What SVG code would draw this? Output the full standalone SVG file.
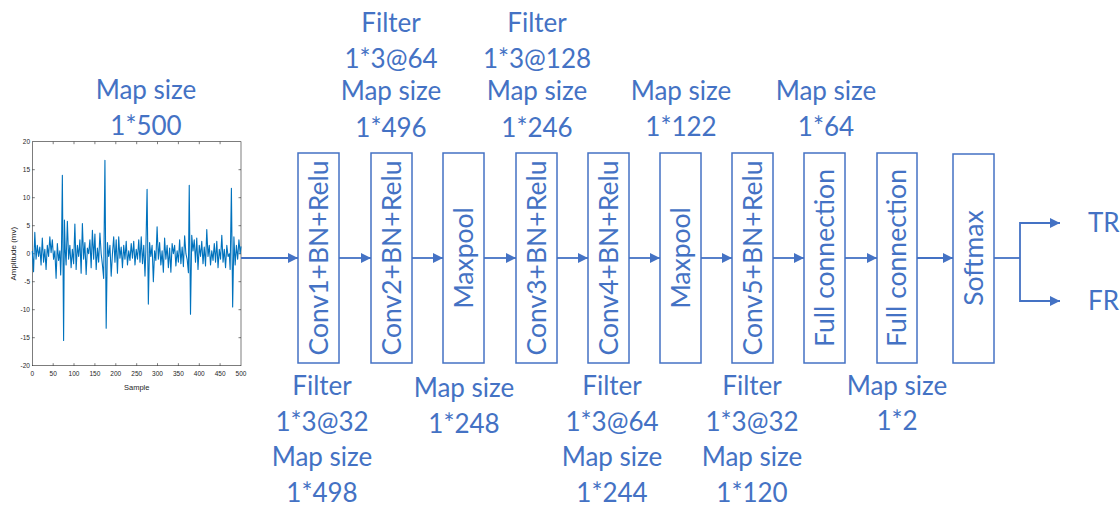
<svg xmlns="http://www.w3.org/2000/svg" width="1120" height="509" viewBox="0 0 1120 509">
<style>
.lbl{font-family:Lato,"Open Sans",sans-serif;font-size:26px;fill:#4472C4;text-anchor:middle}
.box{fill:#fff;stroke:#4472C4;stroke-width:1.5}
.vt{font-family:Lato,"Open Sans",sans-serif;font-size:26.5px;fill:#4472C4;text-anchor:middle}
.con{stroke:#4472C4;stroke-width:1.8;fill:none}
.ax{stroke:#262626;stroke-width:0.6;fill:none}
.tk{font-family:"Liberation Sans",Arial,sans-serif;font-size:6.5px;fill:#262626}
</style>
<defs>
<marker id="ah" viewBox="0 0 10 10" refX="10" refY="5" markerWidth="10" markerHeight="10" markerUnits="userSpaceOnUse" orient="auto">
<path d="M0,0 L10,5 L0,10 z" fill="#4472C4"/>
</marker>
</defs>
<rect width="1120" height="509" fill="#fff"/>

<g id="signal-plot">
<rect class="ax" x="32.3" y="141.7" width="208.7" height="224"/>
<path class="ax" d="M32.3,169.7h2.5 M32.3,197.7h2.5 M32.3,225.7h2.5 M32.3,253.7h2.5 M32.3,281.7h2.5 M32.3,309.7h2.5 M32.3,337.7h2.5 M241,169.7h-2.5 M241,197.7h-2.5 M241,225.7h-2.5 M241,253.7h-2.5 M241,281.7h-2.5 M241,309.7h-2.5 M241,337.7h-2.5 M53.2,365.7v-2.5 M74.0,365.7v-2.5 M94.9,365.7v-2.5 M115.8,365.7v-2.5 M136.7,365.7v-2.5 M157.5,365.7v-2.5 M178.4,365.7v-2.5 M199.3,365.7v-2.5 M220.1,365.7v-2.5 M53.2,141.7v2.5 M74.0,141.7v2.5 M94.9,141.7v2.5 M115.8,141.7v2.5 M136.7,141.7v2.5 M157.5,141.7v2.5 M178.4,141.7v2.5 M199.3,141.7v2.5 M220.1,141.7v2.5"/>
<g class="tk" text-anchor="end">
<text x="30" y="144">20</text>
<text x="30" y="172">15</text>
<text x="30" y="200">10</text>
<text x="30" y="228">5</text>
<text x="30" y="256">0</text>
<text x="30" y="284">-5</text>
<text x="30" y="312">-10</text>
<text x="30" y="340">-15</text>
<text x="30" y="368">-20</text>
</g>
<g class="tk" text-anchor="middle">
<text x="32.3" y="376">0</text>
<text x="53.2" y="376">50</text>
<text x="74.0" y="376">100</text>
<text x="94.9" y="376">150</text>
<text x="115.8" y="376">200</text>
<text x="136.7" y="376">250</text>
<text x="157.5" y="376">300</text>
<text x="178.4" y="376">350</text>
<text x="199.3" y="376">400</text>
<text x="220.1" y="376">450</text>
<text x="241" y="376">500</text>
</g>
<text x="136.7" y="390" font-family="Liberation Sans, Arial, sans-serif" font-size="7.5" fill="#262626" text-anchor="middle">Sample</text>
<text transform="translate(16,253.7) rotate(-90)" font-family="Liberation Sans, Arial, sans-serif" font-size="8" fill="#262626" text-anchor="middle">Amplitude (mv)</text>
<polyline transform="translate(32.3,253.7) scale(0.4174,-5.6)" vector-effect="non-scaling-stroke" fill="none" stroke="#0072BD" stroke-width="1.1" stroke-linejoin="round" points="0,0.5 3,-3.2 6,3.8 9,-1 12,1.5 15,-0.5 18,1.2 21,-2 24,2.8 27,-1.5 30,0.8 33,-2.8 36,1.5 39,-0.5 42,3 45,0.2 48,2.5 51,-1 54,0.5 57,-4.4 60,1.8 63,-1.2 66,0.5 68,-3.8 70,1.2 72,14 75,-15.5 77,6 79,0.5 81,-2 84,5.8 87,-1 90,1.5 93,-2.5 96,0.8 99,-1.8 102,5.3 105,-2.8 108,1.5 111,-0.5 114,2.5 117,-3.5 120,5.4 123,-1 126,2 129,-3.7 132,1 135,0 138,2.5 141,-2.5 144,4.2 147,-1 150,3.5 153,-2.8 156,1 159,-1.5 162,3.7 165,0 168,-2 171,-4.4 174,16.7 177,-13.3 180,2 183,-0.5 186,1.5 189,-4 192,0 195,3 198,-1.5 201,2.5 204,-3.5 207,3 210,-0.8 213,1.2 216,-2.5 219,1.5 222,-1 225,2.2 228,-2 231,0.5 234,-1.2 237,1.8 240,-0.8 243,2.2 246,-2 249,0.8 252,-1 255,2.5 258,-1.5 261,3 264,-1.8 267,1.5 270,-4 272,0.5 275,11.5 278,-9 281,2 284,-0.5 287,1.5 290,-5 293,0.5 296,-1.2 299,4.8 302,-1 305,2 308,-2 311,0.5 314,-3.3 317,2.8 320,-1 323,1.5 326,-2.5 329,1 332,-3.3 335,1.8 338,0 341,1.5 344,-2.2 347,0.5 350,-1.5 353,2.5 356,-1.8 359,1.2 362,-2.3 365,3.2 368,0 371,-1 374,-3.4 376,12.2 379,-10.8 382,3.3 385,0.5 388,2.5 391,-1.5 394,2.8 397,-2.8 400,1.5 403,-0.5 406,2.2 409,-1.8 412,1.2 415,-2.2 418,4.3 421,-0.5 424,1.5 427,-2 430,0.5 433,-1.2 436,1.8 439,-1.5 442,2.2 445,-2.5 448,0.8 451,-1 454,3.3 457,-1.5 460,0.8 463,-2.5 466,1.5 469,-0.5 472,0 474,-2.8 477,11.7 480,-9.5 483,3 486,-2 489,1.5 492,-1 495,2.5 498,0 500,1.3"/>
</g>

<g id="connectors">
<line class="con" x1="241" y1="258" x2="298" y2="258" marker-end="url(#ah)"/>
<line class="con" x1="339" y1="258" x2="371" y2="258" marker-end="url(#ah)"/>
<line class="con" x1="412" y1="258" x2="443" y2="258" marker-end="url(#ah)"/>
<line class="con" x1="484" y1="258" x2="516" y2="258" marker-end="url(#ah)"/>
<line class="con" x1="557" y1="258" x2="588" y2="258" marker-end="url(#ah)"/>
<line class="con" x1="629" y1="258" x2="660" y2="258" marker-end="url(#ah)"/>
<line class="con" x1="701" y1="258" x2="732" y2="258" marker-end="url(#ah)"/>
<line class="con" x1="773" y1="258" x2="804" y2="258" marker-end="url(#ah)"/>
<line class="con" x1="845" y1="258" x2="877" y2="258" marker-end="url(#ah)"/>
<line class="con" x1="917" y1="258" x2="953" y2="258" marker-end="url(#ah)"/>
<line class="con" x1="994" y1="258" x2="1020" y2="258"/>
<polyline class="con" points="1020,258 1020,223 1060,223" marker-end="url(#ah)"/>
<polyline class="con" points="1020,258 1020,301 1060,301" marker-end="url(#ah)"/>
</g>

<g id="conv1"><rect class="box" x="298" y="153" width="41" height="210"/><text class="vt" transform="translate(318.5,258) rotate(-90)" dy="0.35em">Conv1+BN+Relu</text></g>
<g id="conv2"><rect class="box" x="371" y="153" width="41" height="210"/><text class="vt" transform="translate(391.5,258) rotate(-90)" dy="0.35em">Conv2+BN+Relu</text></g>
<g id="maxpool1"><rect class="box" x="443" y="153" width="41" height="210"/><text class="vt" transform="translate(463.5,258) rotate(-90)" dy="0.35em">Maxpool</text></g>
<g id="conv3"><rect class="box" x="516" y="153" width="41" height="210"/><text class="vt" transform="translate(536.5,258) rotate(-90)" dy="0.35em">Conv3+BN+Relu</text></g>
<g id="conv4"><rect class="box" x="588" y="153" width="41" height="210"/><text class="vt" transform="translate(608.5,258) rotate(-90)" dy="0.35em">Conv4+BN+Relu</text></g>
<g id="maxpool2"><rect class="box" x="660" y="153" width="41" height="210"/><text class="vt" transform="translate(680.5,258) rotate(-90)" dy="0.35em">Maxpool</text></g>
<g id="conv5"><rect class="box" x="732" y="153" width="41" height="210"/><text class="vt" transform="translate(752.5,258) rotate(-90)" dy="0.35em">Conv5+BN+Relu</text></g>
<g id="fc1"><rect class="box" x="804" y="153" width="41" height="210"/><text class="vt" transform="translate(824.5,258) rotate(-90)" dy="0.35em">Full connection</text></g>
<g id="fc2"><rect class="box" x="877" y="153" width="40" height="210"/><text class="vt" transform="translate(897,258) rotate(-90)" dy="0.35em">Full connection</text></g>
<g id="softmax"><rect class="box" x="953" y="154" width="41" height="209"/><text class="vt" transform="translate(973.5,258) rotate(-90)" dy="0.35em">Softmax</text></g>
<g id="out-tr"><text class="lbl" x="1088" y="232" style="text-anchor:start">TR</text></g>
<g id="out-fr"><text class="lbl" x="1088" y="310" style="text-anchor:start">FR</text></g>

<g id="labels-top">
<text class="lbl" x="146" y="99">Map size</text>
<text class="lbl" x="146" y="135">1*500</text>
<text class="lbl" x="391" y="32">Filter</text>
<text class="lbl" x="391" y="68">1*3@64</text>
<text class="lbl" x="391" y="100">Map size</text>
<text class="lbl" x="391" y="137">1*496</text>
<text class="lbl" x="537" y="32">Filter</text>
<text class="lbl" x="537" y="68">1*3@128</text>
<text class="lbl" x="537" y="100">Map size</text>
<text class="lbl" x="537" y="137">1*246</text>
<text class="lbl" x="681" y="100">Map size</text>
<text class="lbl" x="681" y="136">1*122</text>
<text class="lbl" x="826" y="100">Map size</text>
<text class="lbl" x="826" y="136">1*64</text>
</g>
<g id="labels-bottom">
<text class="lbl" x="322" y="395">Filter</text>
<text class="lbl" x="322" y="431">1*3@32</text>
<text class="lbl" x="322" y="466">Map size</text>
<text class="lbl" x="322" y="502">1*498</text>
<text class="lbl" x="464" y="397">Map size</text>
<text class="lbl" x="464" y="433">1*248</text>
<text class="lbl" x="612" y="395">Filter</text>
<text class="lbl" x="612" y="431">1*3@64</text>
<text class="lbl" x="612" y="466">Map size</text>
<text class="lbl" x="612" y="502">1*244</text>
<text class="lbl" x="752" y="395">Filter</text>
<text class="lbl" x="752" y="431">1*3@32</text>
<text class="lbl" x="752" y="466">Map size</text>
<text class="lbl" x="752" y="502">1*120</text>
<text class="lbl" x="897" y="395">Map size</text>
<text class="lbl" x="897" y="430">1*2</text>
</g>
</svg>
